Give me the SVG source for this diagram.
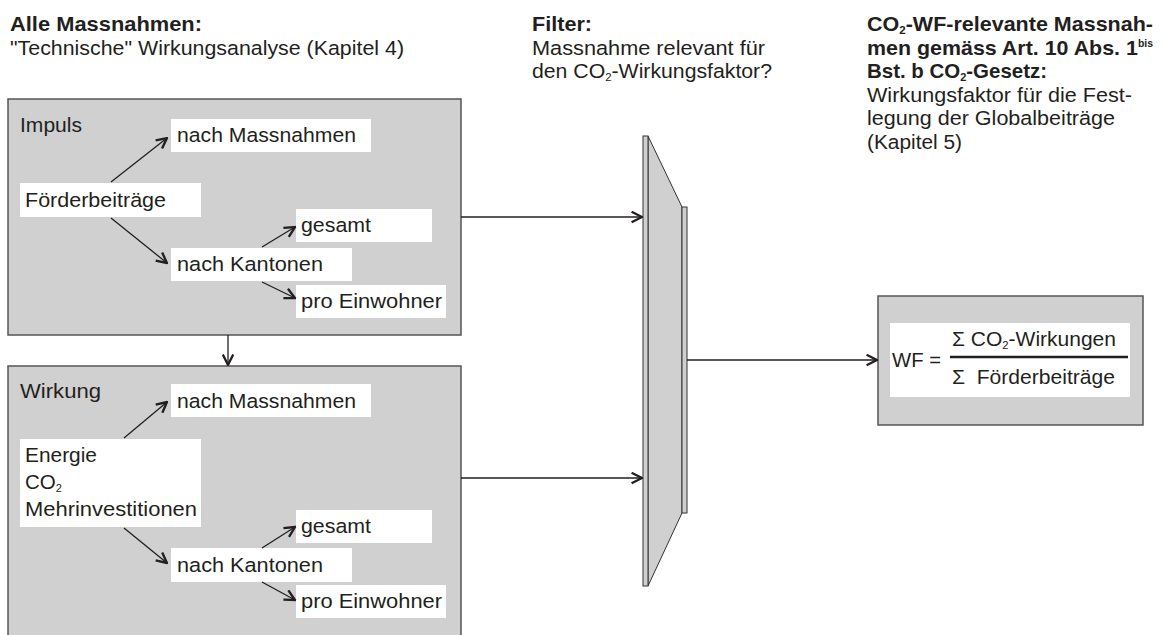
<svg xmlns="http://www.w3.org/2000/svg" width="1164" height="635" viewBox="0 0 1164 635">
<style>
text{font-family:"Liberation Sans",Arial,sans-serif;font-size:20.5px;fill:#231f20}
.b{font-weight:bold}
.box{fill:#d0d0d0;stroke:#555;stroke-width:1.5}
.lbl{fill:#fff}
.con{stroke:#231f20;stroke-width:1.3;fill:none}
.sub{font-size:11px}
.sup{font-size:10px}
</style>
<defs>
<marker id="ah" viewBox="0 0 10 10" refX="9" refY="5" markerWidth="13" markerHeight="13" markerUnits="userSpaceOnUse" orient="auto">
<path d="M1,1 L9,5 L1,9" fill="none" stroke="#231f20" stroke-width="1.8"/>
</marker>
</defs>
<g id="header-left">
<text x="10" y="31" class="b" textLength="192" lengthAdjust="spacingAndGlyphs">Alle Massnahmen:</text>
<text x="10" y="54.5" textLength="394" lengthAdjust="spacingAndGlyphs">"Technische" Wirkungsanalyse (Kapitel 4)</text>
</g>
<g id="header-filter">
<text x="532" y="31" class="b" textLength="60" lengthAdjust="spacingAndGlyphs">Filter:</text>
<text x="532" y="54.5" textLength="233" lengthAdjust="spacingAndGlyphs">Massnahme relevant für</text>
<text x="532" y="78" textLength="240" lengthAdjust="spacingAndGlyphs">den CO<tspan class="sub" dy="3">2</tspan><tspan dy="-3">-Wirkungsfaktor?</tspan></text>
</g>
<g id="header-right">
<text x="867" y="31" class="b" textLength="286" lengthAdjust="spacingAndGlyphs">CO<tspan class="sub" dy="3">2</tspan><tspan dy="-3">-WF-relevante Massnah-</tspan></text>
<text x="867" y="54.5" class="b" textLength="286" lengthAdjust="spacingAndGlyphs">men gemäss Art. 10 Abs. 1<tspan class="sup" dy="-8">bis</tspan></text>
<text x="867" y="78" class="b" textLength="180" lengthAdjust="spacingAndGlyphs">Bst. b CO<tspan class="sub" dy="3">2</tspan><tspan dy="-3">-Gesetz:</tspan></text>
<text x="867" y="101.5" textLength="265" lengthAdjust="spacingAndGlyphs">Wirkungsfaktor für die Fest-</text>
<text x="867" y="125" textLength="248" lengthAdjust="spacingAndGlyphs">legung der Globalbeiträge</text>
<text x="867" y="148.5" textLength="95" lengthAdjust="spacingAndGlyphs">(Kapitel 5)</text>
</g>
<g id="impuls">
<rect class="box" x="8" y="99" width="453" height="236"/>
<text x="20" y="132" textLength="62" lengthAdjust="spacingAndGlyphs">Impuls</text>
<rect class="lbl" x="171" y="119" width="200" height="33"/>
<text x="177" y="142" textLength="179" lengthAdjust="spacingAndGlyphs">nach Massnahmen</text>
<rect class="lbl" x="20" y="183" width="181" height="34"/>
<text x="25" y="207" textLength="141" lengthAdjust="spacingAndGlyphs">Förderbeiträge</text>
<rect class="lbl" x="296" y="209" width="136" height="33"/>
<text x="301" y="232" textLength="70" lengthAdjust="spacingAndGlyphs">gesamt</text>
<rect class="lbl" x="171" y="248" width="181" height="33"/>
<text x="177" y="271" textLength="146" lengthAdjust="spacingAndGlyphs">nach Kantonen</text>
<rect class="lbl" x="296" y="285" width="150" height="33"/>
<text x="301" y="308" textLength="141" lengthAdjust="spacingAndGlyphs">pro Einwohner</text>
</g>
<g id="wirkung">
<rect class="box" x="8" y="366" width="453" height="290"/>
<text x="20" y="398" textLength="81" lengthAdjust="spacingAndGlyphs">Wirkung</text>
<rect class="lbl" x="171" y="384" width="200" height="33"/>
<text x="177" y="408" textLength="179" lengthAdjust="spacingAndGlyphs">nach Massnahmen</text>
<rect class="lbl" x="20" y="439" width="181" height="88"/>
<text x="25" y="462" textLength="72" lengthAdjust="spacingAndGlyphs">Energie</text>
<text x="25" y="489">CO<tspan class="sub" dy="3">2</tspan></text>
<text x="25" y="516" textLength="172" lengthAdjust="spacingAndGlyphs">Mehrinvestitionen</text>
<rect class="lbl" x="296" y="510" width="136" height="33"/>
<text x="301" y="533" textLength="70" lengthAdjust="spacingAndGlyphs">gesamt</text>
<rect class="lbl" x="171" y="548" width="181" height="34"/>
<text x="177" y="572" textLength="146" lengthAdjust="spacingAndGlyphs">nach Kantonen</text>
<rect class="lbl" x="296" y="585" width="150" height="33"/>
<text x="301" y="608" textLength="141" lengthAdjust="spacingAndGlyphs">pro Einwohner</text>
</g>
<g id="filter">
<polygon points="648,136 682,207 682,513 648,586" fill="#d0d0d0" stroke="#333" stroke-width="1"/>
<rect x="643" y="136" width="5" height="450" fill="#d0d0d0" stroke="#333" stroke-width="1"/>
<rect x="682" y="207" width="5" height="306" fill="#d0d0d0" stroke="#333" stroke-width="1"/>
</g>
<g id="wf">
<rect class="box" x="878" y="296" width="265" height="129"/>
<rect class="lbl" x="890" y="323" width="240" height="74"/>
<text x="892" y="367" textLength="49" lengthAdjust="spacingAndGlyphs">WF =</text>
<text x="952" y="346" textLength="164" lengthAdjust="spacingAndGlyphs">Σ CO<tspan class="sub" dy="3">2</tspan><tspan dy="-3">-Wirkungen</tspan></text>
<line x1="950" y1="357" x2="1128" y2="357" stroke="#231f20" stroke-width="2.5"/>
<text x="952" y="384" xml:space="preserve" textLength="163" lengthAdjust="spacingAndGlyphs">Σ  Förderbeiträge</text>
</g>
<g id="connectors">
<path class="con" marker-end="url(#ah)" d="M111,182 L167,138"/>
<path class="con" marker-end="url(#ah)" d="M111,218 L167,263"/>
<path class="con" marker-end="url(#ah)" d="M262,247 L295,227"/>
<path class="con" marker-end="url(#ah)" d="M262,282 L295,298"/>
<path class="con" marker-end="url(#ah)" d="M124,438 L167,402"/>
<path class="con" marker-end="url(#ah)" d="M124,528 L167,563"/>
<path class="con" marker-end="url(#ah)" d="M262,548 L295,527"/>
<path class="con" marker-end="url(#ah)" d="M262,582 L295,600"/>
<path class="con" marker-end="url(#ah)" d="M228,335 L228,365"/>
<path class="con" marker-end="url(#ah)" d="M461,217 L642,217"/>
<path class="con" marker-end="url(#ah)" d="M461,478 L642,478"/>
<path class="con" marker-end="url(#ah)" d="M687,360 L877,360"/>
</g>
</svg>
